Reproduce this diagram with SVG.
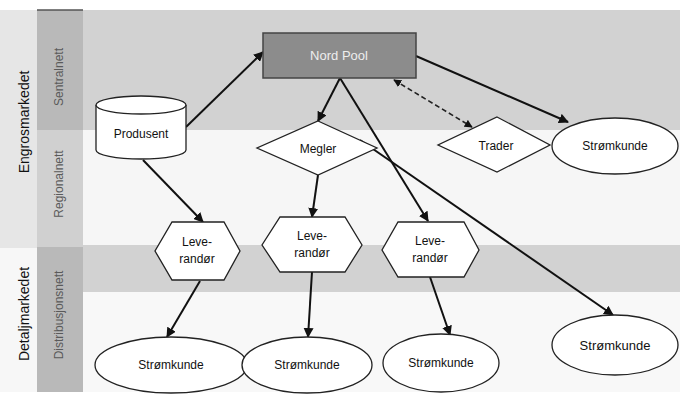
<svg xmlns="http://www.w3.org/2000/svg" width="680" height="396" viewBox="0 0 680 396">
<style>
text{font-family:"Liberation Sans",Arial,sans-serif;fill:#111;text-anchor:middle}
.node{fill:#fff;stroke:#222;stroke-width:1.3}
.lbl{font-size:12px}
.side{font-size:12px;fill:#5a5a5a}
.big{font-size:14px}
.conn{stroke:#111;stroke-width:2;fill:none;marker-end:url(#ah)}
.dash{stroke:#222;stroke-width:1.6;fill:none;stroke-dasharray:5 3;marker-end:url(#ah);marker-start:url(#ahs)}
</style>
<defs>
<marker id="ah" viewBox="0 0 10 10" refX="9" refY="5" markerWidth="5" markerHeight="5" orient="auto"><path d="M0,0 L10,5 L0,10 z" fill="#111"/></marker>
<marker id="ahs" viewBox="0 0 10 10" refX="1" refY="5" markerWidth="5" markerHeight="5" orient="auto"><path d="M10,0 L0,5 L10,10 z" fill="#111"/></marker>
</defs>
<g id="background">
<rect x="0" y="0" width="680" height="396" fill="#fff"/>
<rect x="0" y="10" width="37" height="238" fill="#e6e6e6"/>
<rect x="0" y="248" width="37" height="144" fill="#f7f7f7"/>
<rect x="37" y="10" width="46" height="120" fill="#b9b9b9"/>
<rect x="37" y="130" width="46" height="117" fill="#d0d0d0"/>
<rect x="37" y="247" width="46" height="145" fill="#b9b9b9"/>
<line x1="37" y1="10" x2="83" y2="10" stroke="#555" stroke-width="1.5"/>
<rect x="83" y="10" width="597" height="120" fill="#d2d2d2"/>
<rect x="83" y="130" width="597" height="115" fill="#f6f6f6"/>
<rect x="83" y="245" width="597" height="47" fill="#d2d2d2"/>
<rect x="83" y="292" width="597" height="100" fill="#f8f8f8"/>
</g>
<g id="labels">
<text class="big" transform="translate(29,122) rotate(-90)">Engrosmarkedet</text>
<text class="big" transform="translate(29,314) rotate(-90)">Detaljmarkedet</text>
<text class="side" transform="translate(63,77) rotate(-90)">Sentralnett</text>
<text class="side" transform="translate(63,184) rotate(-90)">Regionalnett</text>
<text class="side" transform="translate(63,315) rotate(-90)">Distribusjonsnett</text>
</g>
<g id="connectors">
<line class="conn" x1="186" y1="127" x2="263" y2="52"/>
<line class="conn" x1="143" y1="160" x2="203" y2="222"/>
<line class="conn" x1="340" y1="78" x2="318" y2="121"/>
<line class="conn" x1="340" y1="78" x2="428" y2="221"/>
<line class="conn" x1="360" y1="140" x2="613" y2="315"/>
<line class="conn" x1="416" y1="56" x2="568" y2="122"/>
<line class="dash" x1="394" y1="80" x2="472" y2="127"/>
<line class="conn" x1="318" y1="175" x2="312" y2="217"/>
<line class="conn" x1="200" y1="281" x2="167" y2="337"/>
<line class="conn" x1="312" y1="272" x2="308" y2="337"/>
<line class="conn" x1="430" y1="277" x2="450" y2="335"/>
</g>
<g id="nordpool">
<rect x="263" y="33" width="153" height="45" fill="#8c8c8c" stroke="#444" stroke-width="1.5"/>
<text x="339" y="60" style="font-size:13px;fill:#eee">Nord Pool</text>
</g>
<g id="produsent">
<path class="node" d="M96,105 L96,150 A45,9 0 0 0 186,150 L186,105"/>
<ellipse class="node" cx="141" cy="105" rx="45" ry="9"/>
<text class="lbl" x="141" y="138">Produsent</text>
</g>
<g id="megler">
<polygon class="node" points="318,121 377,148 318,175 257,148"/>
<text class="lbl" x="318" y="153">Megler</text>
</g>
<g id="trader">
<polygon class="node" points="497,117 550,145 497,172 438,145"/>
<text class="lbl" x="496" y="150">Trader</text>
</g>
<g id="stromkunde-top">
<ellipse class="node" cx="615" cy="146" rx="63" ry="28"/>
<text class="lbl" x="615" y="150">Strømkunde</text>
</g>
<g id="leverandor1">
<polygon class="node" points="172,222 224,222 240,251 224,280 172,280 155,251"/>
<text class="lbl" x="197" y="246">Leve-</text>
<text class="lbl" x="197" y="263">randør</text>
</g>
<g id="leverandor2">
<polygon class="node" points="280,217 345,217 362,245 345,272 280,272 262,245"/>
<text class="lbl" x="312" y="240">Leve-</text>
<text class="lbl" x="312" y="257">randør</text>
</g>
<g id="leverandor3">
<polygon class="node" points="398,222 464,222 479,250 464,277 398,277 382,250"/>
<text class="lbl" x="430" y="245">Leve-</text>
<text class="lbl" x="430" y="262">randør</text>
</g>
<g id="stromkunde1">
<ellipse class="node" cx="171" cy="365" rx="76" ry="28"/>
<text class="lbl" x="171" y="369">Strømkunde</text>
</g>
<g id="stromkunde2">
<ellipse class="node" cx="307" cy="365" rx="65" ry="28"/>
<text class="lbl" x="307" y="369">Strømkunde</text>
</g>
<g id="stromkunde3">
<ellipse class="node" cx="441" cy="363" rx="58" ry="29"/>
<text class="lbl" x="441" y="367">Strømkunde</text>
</g>
<g id="stromkunde4">
<ellipse class="node" cx="615" cy="345" rx="63" ry="30"/>
<text x="615" y="350" style="font-size:13px">Strømkunde</text>
</g>
</svg>
